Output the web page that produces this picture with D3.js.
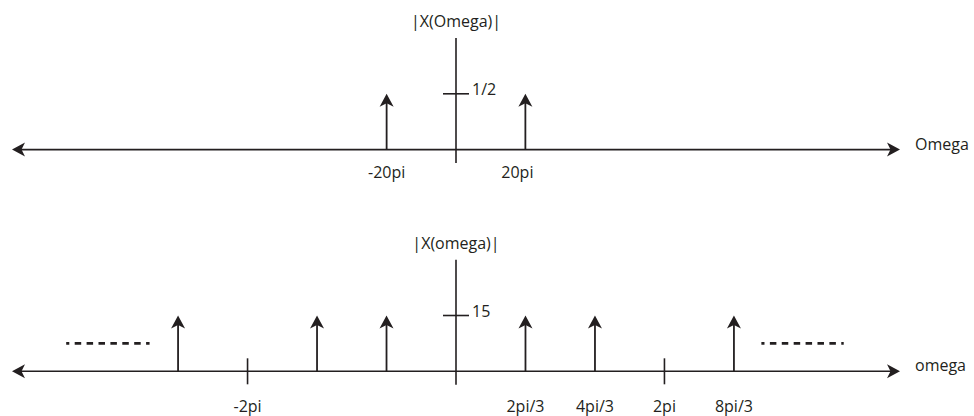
<!DOCTYPE html>
<html>
<head>
<meta charset="utf-8">
<script src="https://cdn.jsdelivr.net/npm/d3@7"></script>
<style>
  body { margin: 0; background: #fff; }
  svg { display: block; }
  text { font-family: 'Open Sans', sans-serif; font-size: 16px; fill: #231f20; }
</style>
</head>
<body>
<svg class="chart"></svg>
<script>
// frequencies are in multiples of pi
const topFreqs = [-20, 20]
const topMags = [0.5, 0.5]
const topTicks = [-20, 20]
const topTickLabels = ['-20pi', '20pi']
const topYTick = 0.5
const topYLabel = '1/2'

const botFreqs = [-8 / 3, -4 / 3, -2 / 3, 2 / 3, 4 / 3, 8 / 3]
const botMags = [15, 15, 15, 15, 15, 15]
const botTicks = [-2, 2 / 3, 4 / 3, 2, 8 / 3]
const botTickLabels = ['-2pi', '2pi/3', '4pi/3', '2pi', '8pi/3']
const botMarkTicks = [-2, 2]
const botYTick = 15
const botYLabel = '15'
// "continues" dashes: [from, to] in pi, at a magnitude level
const botDots = [[-3.74, -2.94], [2.93, 3.72]]
const botDotLevel = 7.5

const width = 974
const height = 416
const ink = '#231f20'

const chart = d3.select('.chart')
  .attr('width', width)
  .attr('height', height)

// notched arrowhead pointing along +x, tip at origin
const headPath = 'M0,0L-13,-7L-9.5,0L-13,7Z'

const panel = (cfg) => {
  const x = d3.scaleLinear().domain(cfg.xDomain).range([12, 900])
  const y = d3.scaleLinear().domain(cfg.yDomain).range(cfg.yRange)
  const x0 = x(0)
  const y0 = y(0)
  const g = chart.append('g')

  // horizontal axis with arrows both ends
  g.append('line')
    .attr('x1', x.range()[0] + 6).attr('x2', x.range()[1] - 6)
    .attr('y1', y0).attr('y2', y0)
    .attr('stroke', ink).attr('stroke-width', 1.6)
  g.append('path').attr('d', headPath).attr('fill', ink)
    .attr('transform', `translate(${x.range()[1]},${y0})`)
  g.append('path').attr('d', headPath).attr('fill', ink)
    .attr('transform', `translate(${x.range()[0]},${y0}) rotate(180)`)
  g.append('text')
    .attr('x', 915).attr('y', y0)
    .text(cfg.xName)

  // vertical axis
  g.append('line')
    .attr('x1', x0).attr('x2', x0)
    .attr('y1', y(cfg.yDomain[0])).attr('y2', y(cfg.yDomain[1]))
    .attr('stroke', ink).attr('stroke-width', 1.6)
  g.append('text')
    .attr('x', x0).attr('y', y(cfg.yDomain[1]) - 11)
    .attr('text-anchor', 'middle')
    .text(cfg.yName)
  g.append('line')
    .attr('x1', x0 - 13).attr('x2', x0 + 13)
    .attr('y1', y(cfg.yTick)).attr('y2', y(cfg.yTick))
    .attr('stroke', ink).attr('stroke-width', 1.6)
  g.append('text')
    .attr('x', x0 + 16).attr('y', y(cfg.yTick) + 1)
    .text(cfg.yLabel)

  // small tick marks on the frequency axis
  g.selectAll('.mark')
    .data(cfg.markTicks)
    .enter()
    .append('line')
    .attr('x1', d => x(d)).attr('x2', d => x(d))
    .attr('y1', y0 - 13).attr('y2', y0 + 13)
    .attr('stroke', ink).attr('stroke-width', 1.6)

  // impulses
  const imp = g.selectAll('.impulse')
    .data(cfg.freqs.map((f, i) => ({ f, m: cfg.mags[i] })))
    .enter()
    .append('g')
  imp.append('line')
    .attr('x1', d => x(d.f)).attr('x2', d => x(d.f))
    .attr('y1', y0).attr('y2', d => y(d.m) + 8)
    .attr('stroke', ink).attr('stroke-width', 1.8)
  imp.append('path')
    .attr('d', headPath).attr('fill', ink)
    .attr('transform', d => `translate(${x(d.f)},${y(d.m)}) rotate(-90)`)

  // frequency labels
  g.selectAll('.flabel')
    .data(cfg.ticks)
    .enter()
    .append('text')
    .attr('x', d => x(d))
    .attr('dx', (d, i) => cfg.labelShift[i] || 0)
    .attr('y', y0 + cfg.labelDrop)
    .attr('text-anchor', 'middle')
    .text((d, i) => cfg.tickLabels[i])

  // continuation dashes
  g.selectAll('.dots')
    .data(cfg.dots)
    .enter()
    .append('line')
    .attr('x1', d => x(d[0])).attr('x2', d => x(d[1]))
    .attr('y1', y(cfg.dotLevel)).attr('y2', y(cfg.dotLevel))
    .attr('stroke', ink).attr('stroke-width', 2.8)
    .attr('stroke-dasharray', '6.5,5.4')
    .attr('stroke-dashoffset', 3.4)
}

panel({
  xDomain: [-128, 128],
  yDomain: [-0.12, 1.0],
  yRange: [163, 38],
  xName: 'Omega',
  yName: '|X(Omega)|',
  yTick: topYTick,
  yLabel: topYLabel,
  freqs: topFreqs,
  mags: topMags,
  ticks: topTicks,
  tickLabels: topTickLabels,
  labelShift: [0, -8],
  labelDrop: 28.5,
  markTicks: [],
  dots: [],
  dotLevel: 0
})

panel({
  xDomain: [-4.26, 4.26],
  yDomain: [-3.6, 30],
  yRange: [384.7, 259.7],
  xName: 'omega',
  yName: '|X(omega)|',
  yTick: botYTick,
  yLabel: botYLabel,
  freqs: botFreqs,
  mags: botMags,
  ticks: botTicks,
  tickLabels: botTickLabels,
  labelShift: [],
  labelDrop: 41,
  markTicks: botMarkTicks,
  dots: botDots,
  dotLevel: botDotLevel
})
</script>
</body>
</html>
